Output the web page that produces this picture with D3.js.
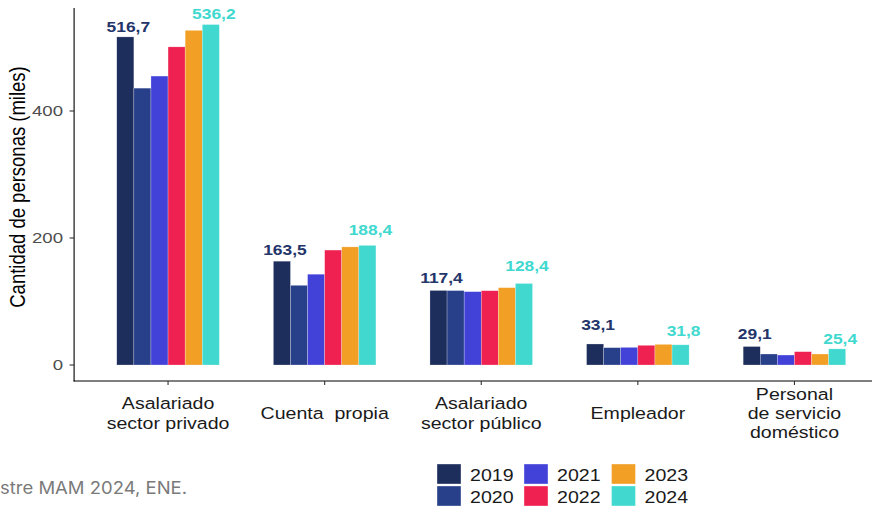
<!DOCTYPE html>
<html><head><meta charset="utf-8">
<script src="https://cdn.jsdelivr.net/npm/d3@7"></script>
<style>
html,body{margin:0;padding:0;background:#fff;}
svg{display:block;}
text{white-space:pre;}
</style>
</head><body>
<script>
// ---------- data ----------
const categories = ["Asalariado\nsector privado", "Cuenta  propia", "Asalariado\nsector público", "Empleador", "Personal\nde servicio\ndoméstico"];
const years = ["2019", "2020", "2021", "2022", "2023", "2024"];
const v2019 = [516.7, 163.5, 117.4, 33.1, 29.1];
const v2020 = [436.0, 125.5, 117.2, 27.3, 17.3];
const v2021 = [455.0, 143.0, 115.5, 27.8, 15.7];
const v2022 = [501.0, 181.0, 117.0, 31.0, 21.0];
const v2023 = [527.0, 186.0, 121.8, 32.5, 17.3];
const v2024 = [536.2, 188.4, 128.4, 31.8, 25.4];
const yTicks = [0, 200, 400];
const yTitle = "Cantidad de personas (miles)";
const caption = "stre MAM 2024, ENE.";
const labeledYears = ["2019", "2024"];

// ---------- style ----------
const colors = {"2019":"#1d2d5c","2020":"#283f8a","2021":"#4242d9","2022":"#ef2150","2023":"#f29f26","2024":"#41d9cf"};
const labelColors = {"2019":"#24356a","2024":"#41d9cf"};
const SX = 1.2; // horizontal glyph stretch of the original
const W = 872, H = 506;

const series = {"2019":v2019,"2020":v2020,"2021":v2021,"2022":v2022,"2023":v2023,"2024":v2024};
const rows = [];
categories.forEach((c,i)=>years.forEach(y=>rows.push({cat:c, ci:i, year:y, value:series[y][i]})));

const svg = d3.select("body").append("svg").attr("width",W).attr("height",H)
  .style("font-family","'Liberation Sans', Arial, sans-serif");

const x = d3.scaleBand().domain(categories).range([74.1, 888.4]).paddingInner(0).paddingOuter(0.1);
const groupW = x.step()*0.655;
const xs = d3.scaleBand().domain(years).range([0, groupW]);
const y = d3.scaleLinear().domain([-25.2, 562.2]).range([381, 8]);
const cx = c => x(c) + x.bandwidth()/2;

function stretchText(sel, tx, ty, extra){
  sel.attr("x",0).attr("y",0).attr("transform",`translate(${tx},${ty}) scale(${SX},1)` + (extra||""));
  return sel;
}

// bars
svg.append("g").selectAll("rect").data(rows).join("rect")
  .attr("x", d => cx(d.cat) - groupW/2 + xs(d.year))
  .attr("width", xs.bandwidth())
  .attr("y", d => y(Math.max(0,d.value)))
  .attr("height", d => y(0) - y(d.value))
  .attr("fill", d => colors[d.year])
  .attr("stroke","#ffffff").attr("stroke-opacity",0.5).attr("stroke-width",0.5);

const labelGap = {"2019":[5,6,7.5,13.5,7.5], "2024":[6,10,12.5,8.5,5]};
const fmt = v => d3.format(".1f")(v).replace(".", ",");
const lg = svg.append("g").attr("font-weight","bold").attr("font-size","14.5px").attr("text-anchor","middle");
rows.filter(d => labeledYears.includes(d.year)).forEach(d=>{
  const t = lg.append("text").text(fmt(d.value)).attr("fill", labelColors[d.year]);
  stretchText(t, cx(d.cat) - groupW/2 + xs(d.year) + xs.bandwidth()/2 + 3, y(d.value) - labelGap[d.year][d.ci]);
});

// axes
const axisG = svg.append("g").attr("stroke","#000").attr("stroke-width",1.1);
axisG.append("line").attr("x1",x.range()[0]).attr("x2",x.range()[0]).attr("y1",y.range()[1]).attr("y2",y.range()[0]+0.55);
axisG.append("line").attr("x1",x.range()[0]-0.55).attr("x2",W).attr("y1",y.range()[0]).attr("y2",y.range()[0]);
yTicks.forEach(t=>{
  axisG.append("line").attr("x1",x.range()[0]-4.5).attr("x2",x.range()[0]).attr("y1",y(t)).attr("y2",y(t)).attr("stroke","#333");
  const tx = svg.append("text").text(t).attr("text-anchor","end").attr("dominant-baseline","central")
    .attr("font-size","15.5px").attr("fill","#4d4d4d");
  stretchText(tx, 63, y(t)+0.5);
});
categories.forEach(c=>{
  axisG.append("line").attr("x1",cx(c)).attr("x2",cx(c)).attr("y1",y.range()[0]).attr("y2",y.range()[0]+4).attr("stroke","#333");
  const lines = c.split("\n");
  const lh = 19.3, center = 413.5;
  lines.forEach((ln,i)=>{
    const t = svg.append("text").text(ln).attr("text-anchor","middle").attr("dominant-baseline","central")
      .attr("font-size","16.3px").attr("fill","#1a1a1a");
    stretchText(t, cx(c), center + (i - (lines.length-1)/2)*lh);
  });
});

// y title
const yt = svg.append("text").text(yTitle).attr("text-anchor","middle").attr("dominant-baseline","central")
  .attr("font-size","18.5px").attr("fill","#000");
stretchText(yt, 17.5, 187, " rotate(-90)");

// legend
const legX = [437, 524, 611.5], legY = [464, 486];
years.forEach((yr,i)=>{
  const col = Math.floor(i/2), row = i%2;
  svg.append("rect").attr("x",legX[col]).attr("y",legY[row]).attr("width",24).attr("height",20)
    .attr("fill",colors[yr]).attr("stroke","#fff").attr("stroke-opacity",0.6).attr("stroke-width",0.6);
  const t = svg.append("text").text(yr).attr("dominant-baseline","central").attr("font-size","16.3px").attr("fill","#1a1a1a");
  stretchText(t, legX[col]+33, legY[row]+11.5);
});

// caption
svg.append("text").text(caption).attr("x",0).attr("y",494)
  .attr("textLength",187).attr("lengthAdjust","spacingAndGlyphs")
  .attr("font-family","Inter, 'Noto Sans', sans-serif").attr("font-size","17px").attr("fill","#7a7a7a");
</script>
</body></html>
